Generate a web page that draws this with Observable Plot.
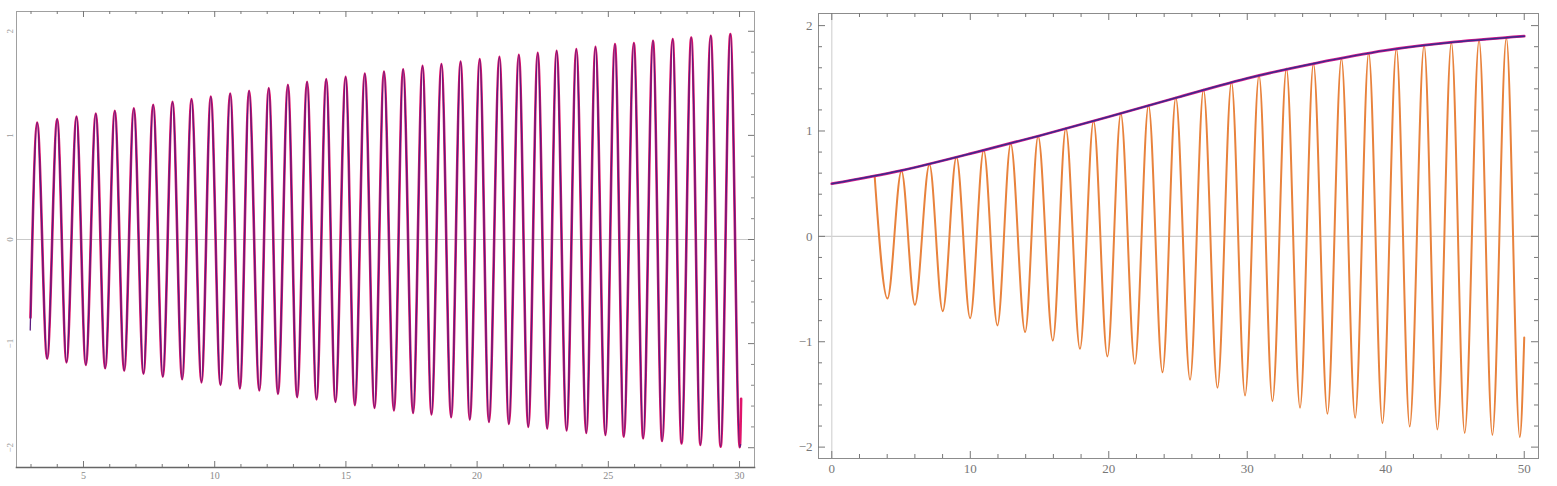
<!DOCTYPE html>
<html><head><meta charset="utf-8">
<script src="https://cdn.jsdelivr.net/npm/d3@7"></script>
<script src="https://cdn.jsdelivr.net/npm/@observablehq/plot@0.6"></script>
<style>
body{margin:0;background:#fff;width:1557px;height:486px;overflow:hidden;position:relative}
#left,#right{position:absolute;top:0}
#left{left:0}
#right{left:780px}
</style></head><body>
<div id="left"></div><div id="right"></div>
<script>
// ---------- Left panel data ----------
const leftPeakX = [3.235, 3.997, 4.733, 5.469, 6.193, 6.918, 7.656, 8.392, 9.116, 9.851, 10.59, 11.31, 12.06, 12.79, 13.52, 14.25, 14.99, 15.72, 16.45, 17.18, 17.92, 18.64, 19.37, 20.10, 20.85, 21.59, 22.31, 23.03, 23.78, 24.51, 25.25, 25.97, 26.70, 27.45, 28.16, 28.90, 29.65];
const leftPeakY = [1.123, 1.156, 1.18, 1.21, 1.236, 1.26, 1.293, 1.322, 1.348, 1.373, 1.402, 1.428, 1.454, 1.486, 1.514, 1.54, 1.562, 1.594, 1.613, 1.636, 1.668, 1.685, 1.71, 1.733, 1.755, 1.774, 1.793, 1.813, 1.829, 1.851, 1.877, 1.887, 1.909, 1.925, 1.94, 1.957, 1.973];
const leftTroughX = [3.616, 4.352, 5.088, 5.826, 6.55, 7.286, 8.022, 8.76, 9.497, 10.22, 10.96, 11.70, 12.41, 13.14, 13.88, 14.60, 15.34, 16.09, 16.83, 17.56, 18.26, 19.01, 19.72, 20.45, 21.21, 21.95, 22.67, 23.41, 24.16, 24.89, 25.59, 26.33, 27.05, 27.79, 28.51, 29.28, 30.01];
const leftTroughY = [-1.145, -1.18, -1.205, -1.237, -1.26, -1.29, -1.317, -1.343, -1.372, -1.397, -1.43, -1.45, -1.483, -1.514, -1.536, -1.56, -1.591, -1.617, -1.642, -1.665, -1.68, -1.707, -1.729, -1.752, -1.771, -1.8, -1.816, -1.835, -1.858, -1.878, -1.894, -1.91, -1.936, -1.958, -1.974, -1.99, -1.995];
const magentaStart = [2.98, -0.75], magentaEnd = [30.06, -1.53];
const purpleStart = [2.97, -0.87], purpleEnd = [30.04, -1.97];

// ---------- Right panel data ----------
const orangeStart = [3.10, 0.563];
const orangePeakX = [5.03, 7.05, 9.0, 10.97, 12.92, 14.9, 16.9, 18.9, 20.87, 22.87, 24.84, 26.84, 28.86, 30.85, 32.83, 34.78, 36.8, 38.77, 40.77, 42.77, 44.74, 46.74, 48.71];
const orangePeakY = [0.62, 0.681, 0.753, 0.817, 0.88, 0.95, 1.026, 1.095, 1.165, 1.244, 1.317, 1.393, 1.466, 1.53, 1.592, 1.64, 1.688, 1.741, 1.783, 1.814, 1.839, 1.861, 1.883];
const orangeTroughX = [4.02, 6.0, 8.01, 9.99, 11.96, 13.96, 15.96, 17.92, 19.9, 21.88, 23.88, 25.87, 27.85, 29.84, 31.82, 33.81, 35.79, 37.79, 39.76, 41.73, 43.73, 45.7, 47.7, 49.68];
const orangeTroughY = [-0.59, -0.65, -0.71, -0.776, -0.845, -0.908, -0.99, -1.067, -1.14, -1.21, -1.29, -1.36, -1.437, -1.51, -1.564, -1.627, -1.684, -1.722, -1.773, -1.805, -1.833, -1.865, -1.884, -1.906];
const orangeEnd = [50.0, -0.96];
const envX = [0, 5, 10, 15, 20, 25, 30, 35, 40, 45, 50];
const envY = [0.50, 0.625, 0.785, 0.955, 1.135, 1.32, 1.50, 1.645, 1.765, 1.845, 1.90];

// ---------- Tick labels ----------
const leftXLabels = [5, 10, 15, 20, 25, 30];
const leftYLabels = [-2, -1, 0, 1, 2];
const rightXLabels = [0, 10, 20, 30, 40, 50];
const rightYLabels = [-2, -1, 0, 1, 2];

// ---------- build tables ----------
function series(start, px, py, tx, ty, end, peakFirst) {
  const pts = [{x: start[0], y: start[1]}];
  const n = Math.max(px.length, tx.length);
  for (let i = 0; i < n; i++) {
    const a = peakFirst ? [px[i], py[i]] : [tx[i], ty[i]];
    const b = peakFirst ? [tx[i], ty[i]] : [px[i], py[i]];
    if (a[0] !== undefined) pts.push({x: a[0], y: a[1]});
    if (b[0] !== undefined) pts.push({x: b[0], y: b[1]});
  }
  pts.push({x: end[0], y: end[1]});
  return pts;
}
const magenta = series(magentaStart, leftPeakX, leftPeakY, leftTroughX, leftTroughY, magentaEnd, true);
const purple = series(purpleStart, leftPeakX, leftPeakY, leftTroughX, leftTroughY, purpleEnd, true);
const orange = series(orangeStart, orangePeakX, orangePeakY, orangeTroughX, orangeTroughY, orangeEnd, false);
const envelope = envX.map((x, i) => ({x, y: envY[i]}));

const minus = d => d < 0 ? "\u2212" + Math.abs(d) : String(d);

// ---------- Left plot ----------
const L = {w: 780, h: 486, ml: 16, mr: 26, mt: 11, mb: 19};
const LiW = L.w - L.ml - L.mr, LiH = L.h - L.mt - L.mb;
const lMinorX = d3.range(3, 31).filter(d => d % 5 !== 0);
const lMinorY = d3.range(-10, 11).map(d => d / 5).filter(d => Math.abs(d % 1) > 1e-9);

const leftPlot = Plot.plot({
  width: L.w, height: L.h,
  marginLeft: L.ml, marginRight: L.mr, marginTop: L.mt, marginBottom: L.mb,
  x: {domain: [2.447, 30.57], label: null},
  y: {domain: [-2.19, 2.19], label: null},
  style: {background: "white", fontFamily: "Liberation Serif"},
  marks: [
    Plot.ruleY([0], {stroke: "#c9c9c9", strokeWidth: 1}),
    Plot.frame({stroke: "#a0a0a0"}),
    Plot.frame({anchor: "bottom", stroke: "#666", strokeWidth: 1.6}),
    Plot.tickX(lMinorX, {x: d => d, insetTop: LiH - 3, stroke: "#777"}),
    Plot.tickX(leftXLabels, {x: d => d, insetTop: LiH - 6, stroke: "#777"}),
    Plot.tickX(lMinorX, {x: d => d, insetBottom: LiH - 3, stroke: "#777"}),
    Plot.tickX(leftXLabels, {x: d => d, insetBottom: LiH - 6, stroke: "#777"}),
    Plot.tickY(lMinorY, {y: d => d, insetLeft: LiW - 3, stroke: "#888"}),
    Plot.tickY(leftYLabels, {y: d => d, insetLeft: LiW - 6, stroke: "#777"}),
    Plot.line(magenta, {x: "x", y: "y", curve: "monotone-x", stroke: "#e0156b", strokeWidth: 2.6}),
    Plot.line(purple, {x: "x", y: "y", curve: "monotone-x", stroke: "#5c1a7e", strokeWidth: 1.3}),
    Plot.axisX({ticks: leftXLabels, tickSize: 0, tickPadding: 4, fontSize: 10, fill: "#8a8a8a", label: null}),
    Plot.axisY({ticks: leftYLabels, tickSize: 0, tickPadding: 6, fontSize: 9, fill: "#9a9a9a", rotate: -90, textAnchor: "middle", tickFormat: minus, label: null})
  ]
});
document.getElementById("left").append(leftPlot);

// ---------- Right plot ----------
const R = {w: 777, h: 486, ml: 38, mr: 19, mt: 13, mb: 28};
const RiW = R.w - R.ml - R.mr, RiH = R.h - R.mt - R.mb;
const rMinorX = d3.range(0, 51, 2).filter(d => d % 10 !== 0);
const rMinorY = d3.range(-10, 11).map(d => d / 5).filter(d => Math.abs(d % 1) > 1e-9);

const rightPlot = Plot.plot({
  width: R.w, height: R.h,
  marginLeft: R.ml, marginRight: R.mr, marginTop: R.mt, marginBottom: R.mb,
  x: {domain: [-0.96, 51.03], label: null},
  y: {domain: [-2.108, 2.115], label: null},
  style: {background: "white", fontFamily: "Liberation Serif"},
  marks: [
    Plot.ruleY([0], {stroke: "#cfcfcf", strokeWidth: 1.2}),
    Plot.ruleX([0], {stroke: "#d4d4d4", strokeWidth: 1.2}),
    Plot.frame({stroke: "#8c8c8c"}),
    Plot.tickX(rMinorX, {x: d => d, insetTop: RiH - 4, stroke: "#777"}),
    Plot.tickX(rightXLabels, {x: d => d, insetTop: RiH - 7, stroke: "#777"}),
    Plot.tickX(rMinorX, {x: d => d, insetBottom: RiH - 4, stroke: "#777"}),
    Plot.tickX(rightXLabels, {x: d => d, insetBottom: RiH - 7, stroke: "#777"}),
    Plot.tickY(rMinorY, {y: d => d, insetRight: RiW - 4, stroke: "#777"}),
    Plot.tickY(rightYLabels, {y: d => d, insetRight: RiW - 7, stroke: "#777"}),
    Plot.tickY(rMinorY, {y: d => d, insetLeft: RiW - 4, stroke: "#777"}),
    Plot.tickY(rightYLabels, {y: d => d, insetLeft: RiW - 7, stroke: "#777"}),
    Plot.line(orange, {x: "x", y: "y", curve: "monotone-x", stroke: "#e8823c", strokeWidth: 2.0}),
    Plot.line(envelope, {x: "x", y: "y", curve: "natural", stroke: "#d81b8c", strokeWidth: 2.8}),
    Plot.line(envelope, {x: "x", y: "y", curve: "natural", stroke: "#3a2a8a", strokeWidth: 1.5}),
    Plot.axisX({ticks: rightXLabels, tickSize: 0, tickPadding: 5, fontSize: 13, fill: "#777", label: null}),
    Plot.axisY({ticks: rightYLabels, tickSize: 0, tickPadding: 6, fontSize: 13, fill: "#777", tickFormat: minus, label: null})
  ]
});
document.getElementById("right").append(rightPlot);
</script>
</body></html>
